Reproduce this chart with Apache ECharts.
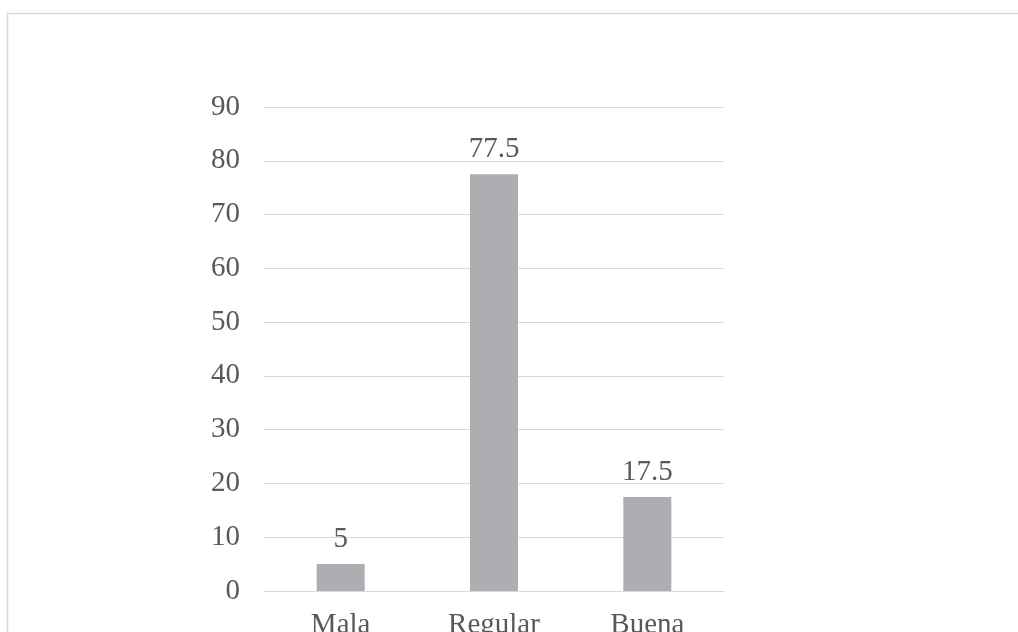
<!DOCTYPE html>
<html><head><meta charset="utf-8">
<script src="https://cdn.jsdelivr.net/npm/echarts@6/dist/echarts.min.js"></script>
<style>html,body{margin:0;padding:0;background:#fff}#c{width:1018px;height:632px}</style>
</head><body><div id="c"></div>
<script>
const categories = ['Mala', 'Regular', 'Buena'];
const values = [5, 77.5, 17.5];
const yTicks = {min: 0, max: 90, interval: 10};

const chart = echarts.init(document.getElementById('c'), null, {renderer: 'canvas'});
const font = '"Liberation Serif", "Times New Roman", serif';
chart.setOption({
  animation: false,
  backgroundColor: '#fff',
  graphic: [{
    type: 'rect', left: 5, top: 11, silent: true,
    shape: {width: 1040, height: 700},
    style: {fill: 'none', stroke: '#d9d9d9', lineWidth: 1.5}
  }],
  grid: {left: 264, right: 294, top: 107, bottom: 41, containLabel: false, outerBoundsMode: 'none'},
  xAxis: {
    type: 'category', data: categories,
    axisLine: {show: true, lineStyle: {color: '#d9d9d9', width: 1}},
    axisTick: {show: false},
    axisLabel: {fontFamily: font, fontSize: 29, color: '#595959', margin: 20}
  },
  yAxis: {
    type: 'value', min: yTicks.min, max: yTicks.max, interval: yTicks.interval,
    axisLine: {show: false}, axisTick: {show: false},
    splitLine: {lineStyle: {color: '#d9d9d9', width: 1}},
    axisLabel: {fontFamily: font, fontSize: 29, color: '#595959', margin: 24, padding: [5, 0, 0, 0]}
  },
  series: [{
    type: 'bar', data: values, barWidth: 48,
    itemStyle: {color: '#adaeb2'},
    label: {show: true, position: 'top', distance: 10, fontFamily: font, fontSize: 29, color: '#595959'}
  }]
});
</script></body></html>
